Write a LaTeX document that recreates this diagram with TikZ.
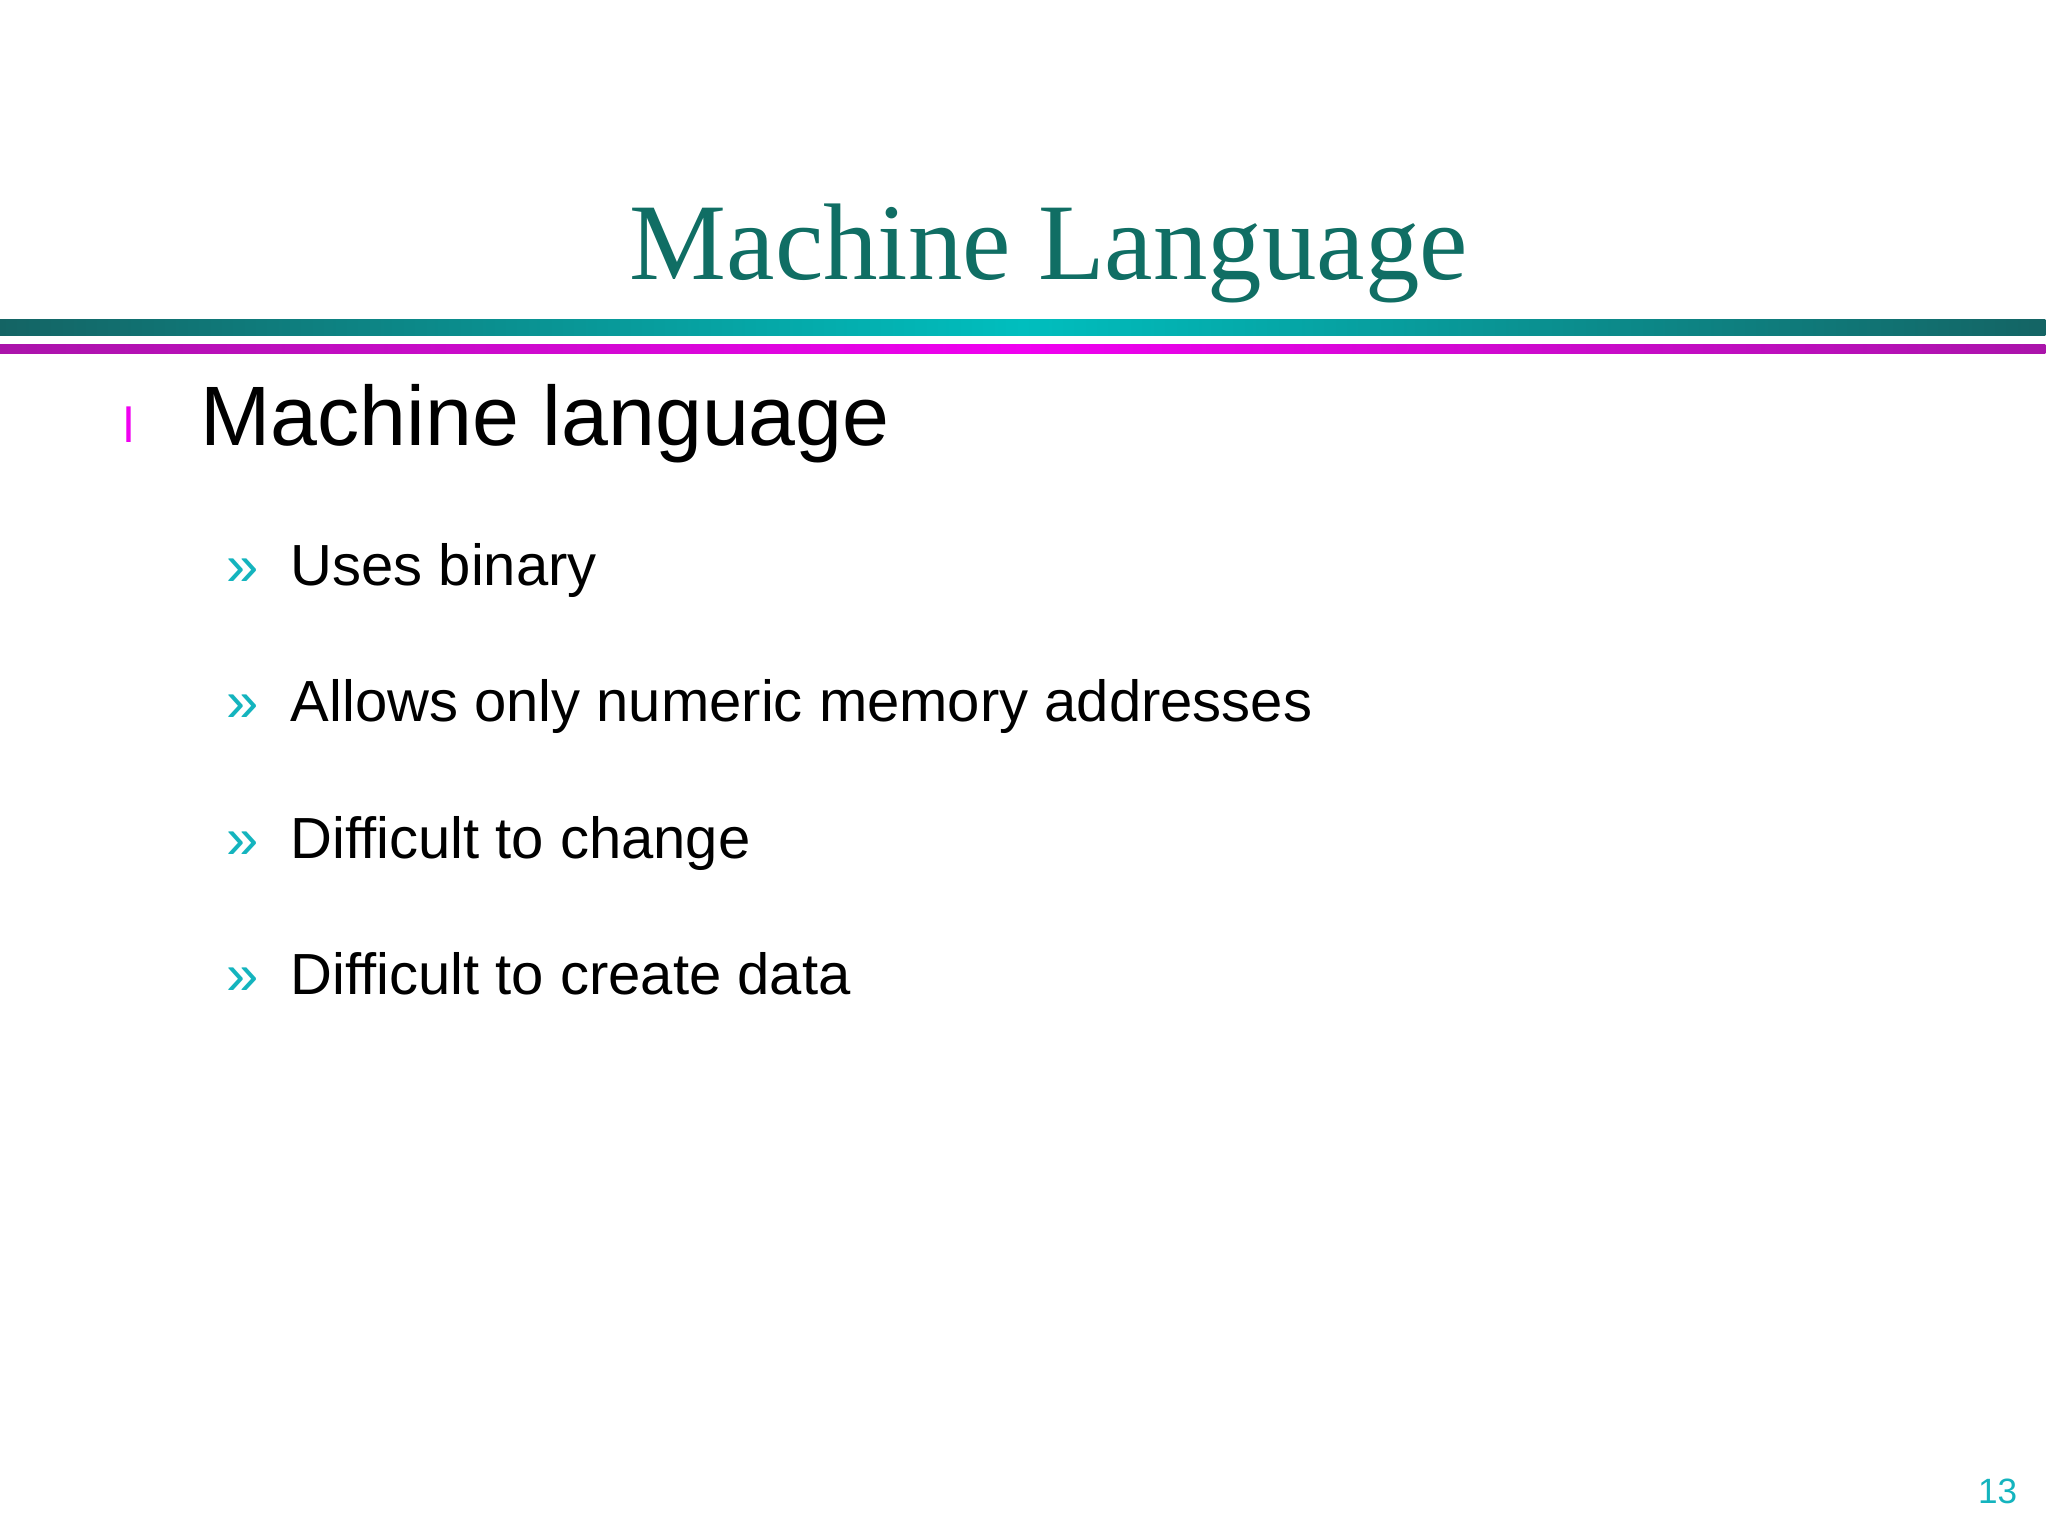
\documentclass[tikz,border=0pt]{standalone}
\usepackage{fontspec}
\setmainfont{Liberation Sans}
\newfontfamily\titlefont{Liberation Serif}
\definecolor{titleteal}{RGB}{16,110,100}
\definecolor{barteal}{RGB}{20,100,100}
\definecolor{barcyan}{RGB}{0,190,190}
\definecolor{barmagenta}{RGB}{240,0,240}
\definecolor{barpurple}{RGB}{170,20,170}
\definecolor{bulletcyan}{RGB}{20,180,190}
\begin{document}
\begin{tikzpicture}[x=0.01306cm, y=-0.01306cm,
    item/.style={anchor=base west, font=\fontsize{16.5}{20}\selectfont, text=black, inner sep=0pt},
    marker/.style={anchor=base west, font=\fontsize{16.5}{20}\selectfont, text=bulletcyan, inner sep=0pt}]

    % Background
    \fill[white] (0,0) rectangle (1568,1176);
    \useasboundingbox (0,0) rectangle (1568,1176);

    % Title
    \node[anchor=base, text=titleteal, font=\titlefont\fontsize{31}{36}\selectfont, inner sep=0pt] (title) at (803,214) {Machine Language};

    % Bars
    \shade[left color=barteal, right color=barteal, middle color=barcyan] (0,245) rectangle (1566,257);
    \shade[left color=barpurple, right color=barpurple, middle color=barmagenta] (0,264) rectangle (1566,271);

    % Main point
    \node[anchor=base west, text=barmagenta, font=\fontsize{14}{16}\selectfont, inner sep=0pt] (dot) at (94,339) {l};
    \node[anchor=base west, font=\fontsize{24}{28}\selectfont, inner sep=0pt] (main) at (153,341) {Machine language};

    % Sub points
    \foreach \txt [count=\i] in {Uses binary, Allows only numeric memory addresses, Difficult to change, Difficult to create data} {
        \node[marker] (m\i) at (173,448+104.5*\i-104.5) {»};
        \node[item] (s\i) at (222,448+104.5*\i-104.5) {\txt};
    }

    % Page number
    \node[anchor=base east, text=bulletcyan, font=\fontsize{10}{12}\selectfont, inner sep=0pt] (page) at (1545,1151) {13};
\end{tikzpicture}
\end{document}
